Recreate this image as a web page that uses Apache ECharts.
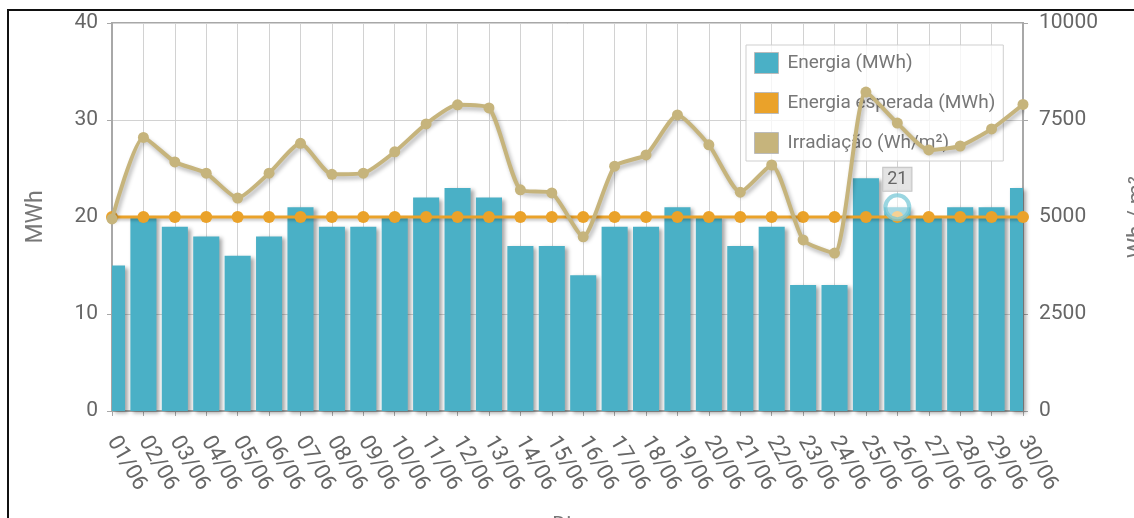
<!DOCTYPE html>
<html>
<head>
<meta charset="utf-8">
<script src="https://cdn.jsdelivr.net/npm/echarts@6/dist/echarts.min.js"></script>
<style>
html,body{margin:0;padding:0;background:#fff;}
#chart{width:1134px;height:518px;}
</style>
</head>
<body>
<div id="chart"></div>
<script>
const days = ['01/06','02/06','03/06','04/06','05/06','06/06','07/06','08/06','09/06','10/06',
  '11/06','12/06','13/06','14/06','15/06','16/06','17/06','18/06','19/06','20/06',
  '21/06','22/06','23/06','24/06','25/06','26/06','27/06','28/06','29/06','30/06'];
const energia = [15,20,19,18,16,18,21,19,19,20,22,23,22,17,17,14,19,19,21,20,17,19,13,13,24,21,20,21,21,23];
const esperada = [20,20,20,20,20,20,20,20,20,20,20,20,20,20,20,20,20,20,20,20,20,20,20,20,20,20,20,20,20,20];
const irradiacao = [4950,7050,6420,6130,5490,6130,6900,6100,6130,6680,7400,7890,7810,5700,5620,4490,6310,6600,7630,6860,5640,6340,4410,4070,8220,7420,6730,6830,7270,7900];
const leftTicks = {min:0, max:40, interval:10};
const rightTicks = {min:0, max:10000, interval:2500};
const highlightIndex = 25;

const FONT = 'Roboto';
const BAR_COLOR = '#4ab0c6';
const BAR_FRACTION = 0.83;
const chart = echarts.init(document.getElementById('chart'), null, {renderer:'canvas'});

function renderBar(params, api) {
  const idx = api.value(0);
  const val = api.value(1);
  const base = api.coord([idx, 0]);
  const top = api.coord([idx, val]);
  const w = api.size([1, 0])[0] * BAR_FRACTION;
  const cs = params.coordSys;
  const rect = echarts.graphic.clipRectByRect(
    {x: top[0] - w / 2, y: top[1], width: w, height: base[1] - top[1]},
    {x: cs.x, y: cs.y, width: cs.width, height: cs.height}
  );
  if (!rect) return null;
  return {
    type: 'rect', shape: rect,
    style: {fill: BAR_COLOR, shadowColor: 'rgba(0,0,0,0.35)', shadowBlur: 4, shadowOffsetX: 3, shadowOffsetY: 2}
  };
}

chart.setOption({
  animation:false,
  textStyle:{fontFamily:FONT},
  graphic:[{type:'rect', silent:true, z:100, shape:{x:8,y:10,width:1400,height:800},
    style:{fill:'none', stroke:'#111', lineWidth:2}}],
  grid:{left:112, right:111, top:23, bottom:107, containLabel:false, outerBoundsMode:'none',
    show:true, borderColor:'#a8a8a8', borderWidth:2, backgroundColor:'transparent'},
  legend:{
    orient:'vertical', left:746, top:45, padding:[7,8,7,8], itemGap:18,
    itemWidth:24, itemHeight:21, icon:'rect',
    backgroundColor:'rgba(255,255,255,0.78)', borderColor:'#cfcfcf', borderWidth:1,
    itemStyle:{borderColor:'#bbb', borderWidth:1},
    textStyle:{color:'#777', fontSize:19, fontFamily:FONT, padding:[0,0,0,4]},
    data:['Energia (MWh)','Energia esperada (MWh)','Irradiação (Wh/m²)']
  },
  xAxis:{
    type:'category', data:days, boundaryGap:false,
    name:'Dia', nameLocation:'middle', nameGap:104,
    nameTextStyle:{color:'#777', fontSize:21, fontFamily:FONT},
    axisLine:{lineStyle:{color:'#a8a8a8', width:2}},
    axisTick:{show:true, length:5, lineStyle:{color:'#a8a8a8'}},
    axisLabel:{rotate:-60, color:'#666', fontSize:22, margin:27, fontFamily:FONT, interval:0},
    splitLine:{show:true, lineStyle:{color:'#d2d2d2', width:1}}
  },
  yAxis:[{
    type:'value', min:leftTicks.min, max:leftTicks.max, interval:leftTicks.interval,
    name:'MWh', nameLocation:'middle', nameGap:64, nameRotate:90,
    nameTextStyle:{color:'#777', fontSize:23, fontFamily:FONT},
    axisLine:{show:true, lineStyle:{color:'#a8a8a8', width:2}},
    axisTick:{show:true, length:5, lineStyle:{color:'#a8a8a8'}},
    axisLabel:{color:'#666', fontSize:21, margin:14, fontFamily:FONT},
    splitLine:{show:true, lineStyle:{color:'#d2d2d2', width:1}}
  },{
    type:'value', min:rightTicks.min, max:rightTicks.max, interval:rightTicks.interval,
    name:'Wh / m²', nameLocation:'middle', nameGap:104, nameRotate:90,
    nameTextStyle:{color:'#777', fontSize:23, fontFamily:FONT},
    axisLine:{show:true, lineStyle:{color:'#a8a8a8', width:2}},
    axisTick:{show:true, length:5, lineStyle:{color:'#a8a8a8'}},
    axisLabel:{color:'#666', fontSize:21, margin:16, fontFamily:FONT, formatter: v => String(v)},
    splitLine:{show:false}
  }],
  series:[{
    name:'Energia (MWh)', type:'custom', renderItem:renderBar, z:2,
    data: energia.map((v, i) => [i, v]), encode:{x:0, y:1},
    itemStyle:{color:BAR_COLOR}
  },{
    name:'Energia esperada (MWh)', type:'line', data:esperada, z:3,
    symbol:'circle', symbolSize:12, showSymbol:true,
    lineStyle:{color:'#eaa22a', width:3, shadowColor:'rgba(0,0,0,0.25)', shadowBlur:3, shadowOffsetX:2, shadowOffsetY:2},
    itemStyle:{color:'#eaa22a'},
    markPoint:{
      silent:true, z:6,
      data:[{
        coord:[highlightIndex, energia[highlightIndex]], value:energia[highlightIndex],
        symbol:'circle', symbolSize:24,
        itemStyle:{color:'rgba(255,255,255,0.5)', borderColor:'rgba(120,200,215,0.75)', borderWidth:4},
        label:{show:false}
      },{
        coord:[highlightIndex, energia[highlightIndex]], value:energia[highlightIndex],
        symbol:'circle', symbolSize:1, itemStyle:{color:'transparent'},
        label:{show:true, position:'inside', offset:[0,-28], formatter:'{c}', color:'#666', fontSize:18, fontFamily:FONT,
          backgroundColor:'rgba(225,225,225,0.9)', borderColor:'#c4c4c4', borderWidth:1, padding:[3,4,2,4]}
      }]
    }
  },{
    name:'Irradiação (Wh/m²)', type:'line', yAxisIndex:1, data:irradiacao, z:4, smooth:0.2,
    symbol:'circle', symbolSize:11, showSymbol:true,
    lineStyle:{color:'#c6b47c', width:4, shadowColor:'rgba(0,0,0,0.3)', shadowBlur:4, shadowOffsetX:2, shadowOffsetY:3},
    itemStyle:{color:'#c6b47c'}
  }]
});
</script>
</body>
</html>
